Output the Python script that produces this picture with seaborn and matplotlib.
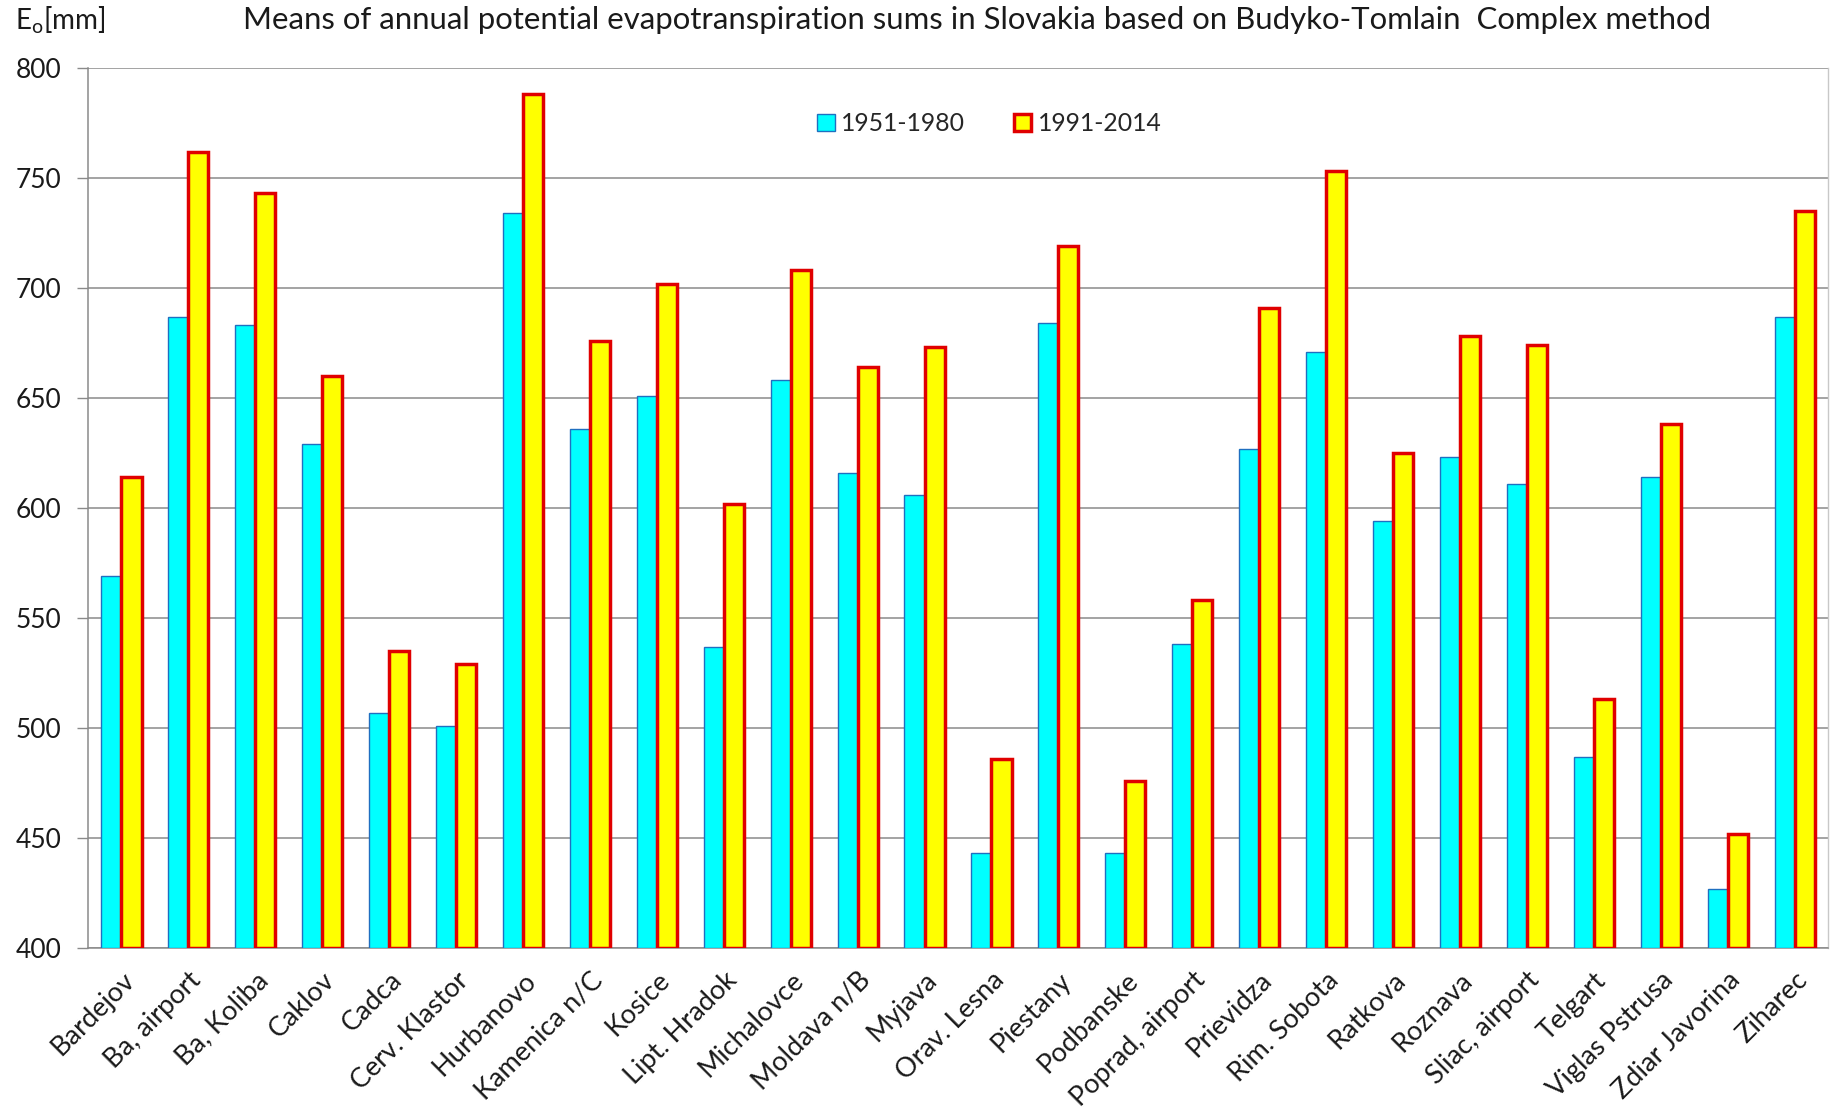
import matplotlib
matplotlib.use("Agg")
import matplotlib.pyplot as plt
import seaborn as sns
import pandas as pd

stations = ["Bardejov", "Ba, airport", "Ba, Koliba", "Caklov", "Cadca", "Cerv. Klastor",
            "Hurbanovo", "Kamenica n/C", "Kosice", "Lipt. Hradok", "Michalovce",
            "Moldava n/B", "Myjava", "Orav. Lesna", "Piestany", "Podbanske",
            "Poprad, airport", "Prievidza", "Rim. Sobota", "Ratkova", "Roznava",
            "Sliac, airport", "Telgart", "Viglas Pstrusa", "Zdiar Javorina", "Ziharec"]
periods = ["1951-1980", "1991-2014"]
eo_1951_1980 = [569, 687, 683, 629, 507, 501, 734, 636, 651, 537, 658, 616, 606,
                443, 684, 443, 538, 627, 671, 594, 623, 611, 487, 614, 427, 687]
eo_1991_2014 = [614, 762, 743, 660, 535, 529, 788, 676, 702, 602, 708, 664, 673,
                486, 719, 476, 558, 691, 753, 625, 678, 674, 513, 638, 452, 735]
y_ticks = [400, 450, 500, 550, 600, 650, 700, 750, 800]

df = pd.DataFrame({
    "station": stations * 2,
    "period": [periods[0]] * len(stations) + [periods[1]] * len(stations),
    "value": eo_1951_1980 + eo_1991_2014,
})

sns.set_theme(style="white")
plt.rcParams["font.family"] = ["Lato", "DejaVu Sans"]
plt.rcParams["mathtext.fontset"] = "custom"
plt.rcParams["mathtext.rm"] = "Lato"
plt.rcParams["mathtext.it"] = "Lato"

fig = plt.figure(figsize=(18.33, 11.14), dpi=100)
ax = fig.add_axes([0.048, 0.149, 0.9493, 0.790])

sns.barplot(data=df, x="station", y="value", hue="period", order=stations,
            hue_order=periods, palette=["#00ffff", "#ffff00"], saturation=1,
            width=0.6, errorbar=None, ax=ax, legend=False, zorder=3)

# bars start at the bottom of the value axis so the outline closes there
base = y_ticks[0]
edge_styles = [("#1f6fc0", 1.0), ("#e00000", 2.5)]
for cont, (ec, lw) in zip(ax.containers, edge_styles):
    for rect in cont.patches:
        h = rect.get_height()
        rect.set_y(base)
        rect.set_height(h - base)
        rect.set_edgecolor(ec)
        rect.set_linewidth(lw)
        rect.set_joinstyle("miter")

ax.set_ylim(400, 800)
ax.set_xlim(-0.5, len(stations) - 0.5)
ax.set_yticks(y_ticks)
ax.yaxis.grid(True, color="#8a8a8a", linewidth=1.1, zorder=0)
ax.set_axisbelow(True)

ax.set_xticks(range(len(stations)))
ax.set_xticklabels(stations, rotation=45, ha="right", rotation_mode="anchor", fontsize=19.5)
ax.set_xticks([i - 0.5 for i in range(len(stations) + 1)], minor=True)
ax.tick_params(axis="x", which="major", length=0, pad=14)
ax.tick_params(axis="x", which="minor", length=9, width=1, color="#8a8a8a", direction="out")
ax.tick_params(axis="y", which="major", length=8, width=1, color="#8a8a8a",
               direction="out", labelsize=19, pad=11, left=True)
ax.set_xlabel("")
ax.set_ylabel("")

for side in ["left", "bottom"]:
    ax.spines[side].set_color("#8a8a8a")
    ax.spines[side].set_linewidth(1.1)
ax.spines["top"].set_visible(False)
ax.spines["right"].set_color("#c8c8c8")
ax.spines["right"].set_linewidth(1.0)

ax.legend(handles=list(ax.containers), labels=periods, loc="center",
          bbox_to_anchor=(0.518, 0.937), ncol=2, frameon=False, fontsize=17.8,
          handlelength=0.7, handleheight=0.7, handletextpad=0.25, columnspacing=2.0)

fig.text(0.533, 0.982, "Means of annual potential evapotranspiration sums in Slovakia "
         "based on Budyko-Tomlain  Complex method", ha="center", va="center",
         fontsize=22.4, color="#1a1a1a")
fig.text(0.008, 0.982, r"E$_\mathrm{o}$[mm]", ha="left", va="center",
         fontsize=20, color="#1a1a1a")

for lab in ax.get_xticklabels() + ax.get_yticklabels():
    lab.set_color("#1a1a1a")

fig.savefig("out.png", dpi=100)
